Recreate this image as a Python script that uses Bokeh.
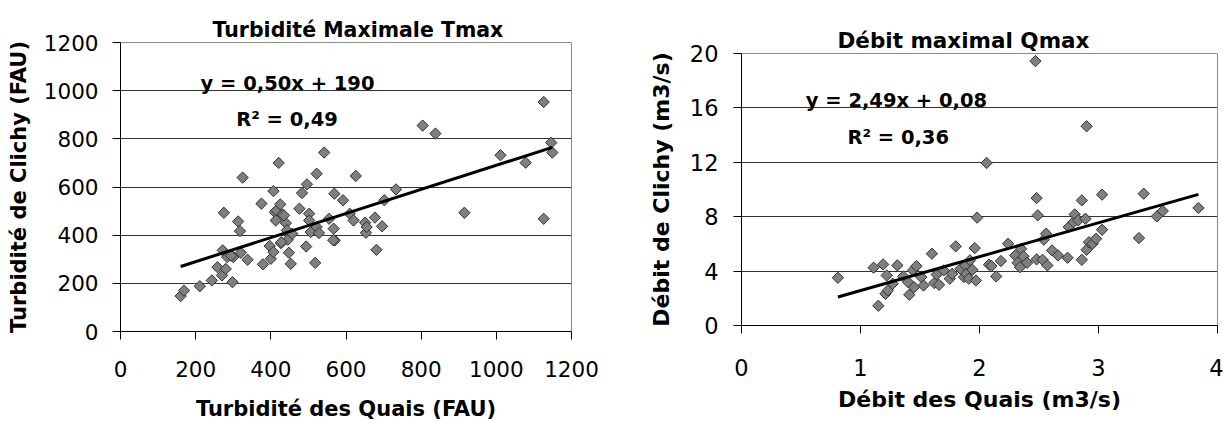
import numpy as np
from bokeh.plotting import figure
from bokeh.layouts import row
from bokeh.models import Range1d, FixedTicker, Label, ColumnDataSource
from bokeh.embed import file_html
from bokeh.resources import INLINE

FONT = "DejaVu Sans"

# ---------------- Data: Turbidité maximale (FAU) ----------------
turb_quais = [160, 169, 211, 243, 258, 270, 272, 275, 280, 284, 298, 300, 313, 318, 320,
              325, 338, 375, 379, 397, 400, 407, 407, 411, 413, 415, 421, 425, 427, 431,
              440, 443, 445, 448, 453, 457, 476, 483, 494, 496, 502, 502, 506, 518, 522,
              522, 528, 542, 555, 567, 569, 570, 592, 610, 620, 626, 651, 653, 655, 677,
              681, 696, 702, 733, 804, 838, 915, 1011, 1078, 1126, 1126, 1146, 1149,
              566, 428, 294, 435]
turb_clichy = [147, 170, 188, 212, 267, 233, 337, 493, 260, 309, 205, 309, 457, 417, 327,
               639, 298, 531, 279, 355, 302, 330, 583, 495, 461, 503, 700, 528, 367, 486,
               450, 420, 381, 327, 281, 406, 510, 575, 353, 611, 489, 461, 413, 285, 655,
               434, 409, 743, 468, 427, 572, 378, 545, 489, 461, 646, 452, 410, 434, 473,
               339, 437, 545, 590, 855, 822, 493, 732, 701, 953, 468, 784, 743,
               379, 371, 315, 482]
turb_slope, turb_intercept = 0.50, 190
turb_title = "Turbidité Maximale Tmax"
turb_xlabel = "Turbidité des Quais (FAU)"
turb_ylabel = "Turbidité de Clichy (FAU)"
turb_eq = "y = 0,50x + 190"
turb_r2 = "R² = 0,49"
turb_xticks = [0, 200, 400, 600, 800, 1000, 1200]
turb_yticks = [0, 200, 400, 600, 800, 1000, 1200]

# ---------------- Data: Débit maximal (m3/s) ----------------
deb_quais = [0.81, 1.11, 1.15, 1.19, 1.21, 1.22, 1.23, 1.27, 1.31, 1.36, 1.40, 1.41, 1.44,
             1.45, 1.47, 1.51, 1.53, 1.60, 1.62, 1.64, 1.66, 1.70, 1.75, 1.77, 1.80, 1.84,
             1.87, 1.88, 1.89, 1.91, 1.92, 1.94, 1.96, 1.97, 1.98, 2.06, 2.08, 2.10, 2.14,
             2.18, 2.24, 2.30, 2.32, 2.34, 2.35, 2.37, 2.40, 2.47, 2.48, 2.48, 2.49, 2.53,
             2.54, 2.56, 2.57, 2.61, 2.66, 2.74, 2.75, 2.79, 2.80, 2.83, 2.86, 2.86, 2.89,
             2.90, 2.90, 2.92, 2.95, 2.98, 3.03, 3.03, 3.34, 3.38, 3.49, 3.54, 3.84]
deb_clichy = [3.51, 4.25, 1.45, 4.49, 2.33, 3.68, 2.58, 3.07, 4.42, 3.61, 3.19, 2.26, 4.05,
              2.82, 4.37, 3.56, 2.94, 5.28, 3.12, 3.75, 2.99, 4.05, 3.44, 3.80, 5.82, 4.17,
              3.56, 4.42, 3.80, 3.44, 4.79, 4.10, 5.69, 3.31, 7.93, 11.95, 4.47, 4.37, 3.61,
              4.74, 6.01, 5.15, 4.61, 4.29, 5.64, 5.08, 4.61, 19.44, 4.86, 9.37, 8.10, 4.83,
              6.31, 6.75, 4.42, 5.52, 5.15, 4.98, 7.24, 7.61, 8.17, 7.73, 4.83, 9.20, 7.85,
              14.65, 5.57, 6.13, 6.01, 6.38, 9.62, 7.04, 6.43, 9.69, 8.02, 8.42, 8.64]
deb_slope, deb_intercept = 2.49, 0.08
deb_title = "Débit maximal Qmax"
deb_xlabel = "Débit des Quais (m3/s)"
deb_ylabel = "Débit de Clichy (m3/s)"
deb_eq = "y = 2,49x + 0,08"
deb_r2 = "R² = 0,36"
deb_xticks = [0, 1, 2, 3, 4]
deb_yticks = [0, 4, 8, 12, 16, 20]


def make_panel(xs, ys, slope, intercept, xticks, yticks, title, xlabel, ylabel,
               width, borders, sizes, standoffs, title_offset, title_standoff,
               eq, eq_pos, r2, r2_pos):
    mbl, mbr, mbt, mbb = borders
    title_size, axis_title_size, tick_size = sizes
    x_std, x_lab_std, y_std, y_lab_std = standoffs
    p = figure(width=width, height=423, output_backend="svg", toolbar_location=None,
               title=title,
               x_range=Range1d(xticks[0], xticks[-1]), y_range=Range1d(yticks[0], yticks[-1]),
               min_border_left=mbl, min_border_right=mbr, min_border_top=mbt,
               min_border_bottom=mbb, background_fill_color="white",
               border_fill_color="white", frame_align=False)
    p.title.align = "left"
    p.title.offset = title_offset
    p.title.standoff = title_standoff
    p.title.text_font = FONT
    p.title.text_font_size = title_size
    p.title.text_font_style = "bold"
    p.title.text_color = "black"

    p.outline_line_color = "#8c8c8c"
    p.outline_line_width = 1

    p.xgrid.visible = False
    p.ygrid.ticker = FixedTicker(ticks=yticks)
    p.ygrid.grid_line_color = "#333333"
    p.ygrid.grid_line_width = 1

    for ax, ticks, std, lab, lstd in ((p.xaxis[0], xticks, x_std, xlabel, x_lab_std),
                                      (p.yaxis[0], yticks, y_std, ylabel, y_lab_std)):
        ax.ticker = FixedTicker(ticks=ticks)
        ax.minor_tick_line_color = None
        ax.major_tick_out = 8
        ax.major_tick_in = 0
        ax.major_tick_line_color = "black"
        ax.axis_line_color = "black"
        ax.major_label_text_font = FONT
        ax.major_label_text_font_size = tick_size
        ax.major_label_text_color = "black"
        ax.major_label_standoff = std
        ax.axis_label = lab
        ax.axis_label_text_font = FONT
        ax.axis_label_text_font_size = axis_title_size
        ax.axis_label_text_font_style = "bold"
        ax.axis_label_text_color = "black"
        ax.axis_label_standoff = lstd
    p.yaxis[0].major_label_orientation = "horizontal"

    src = ColumnDataSource(dict(x=xs, y=ys))
    p.scatter("x", "y", source=src, marker="square", size=8.0, angle=np.pi / 4,
              fill_color="#7f7f7f", line_color="#333333", line_width=1)

    x0, x1 = min(xs), max(xs)
    p.line([x0, x1], [slope * x0 + intercept, slope * x1 + intercept],
           line_color="black", line_width=3)

    for txt, pos in ((eq, eq_pos), (r2, r2_pos)):
        p.add_layout(Label(x=pos[0], y=pos[1], text=txt, text_font=FONT,
                           text_font_size="19.5px", text_font_style="bold",
                           text_color="black", text_baseline="alphabetic"))
    return p


# left panel: frame x 120..571 (0..1200), y 42..331 (1200..0)
p1 = make_panel(turb_quais, turb_clichy, turb_slope, turb_intercept,
                turb_xticks, turb_yticks, turb_title, turb_xlabel, turb_ylabel,
                608, (120, 37, 42, 92), ("20.5px", "21px", "21.5px"),
                (21, 17, 14, 10), 92, 2,
                turb_eq, (213, 1030), turb_r2, (308, 880))
# right panel: frame x 741..1217 (0..4), y 53..325 (20..0)
p2 = make_panel(deb_quais, deb_clichy, deb_slope, deb_intercept,
                deb_xticks, deb_yticks, deb_title, deb_xlabel, deb_ylabel,
                615, (133, 6, 53, 98), ("21.5px", "22px", "22.5px"),
                (25, 8, 15, 13), 96, 1,
                deb_eq, (0.54, 16.54), deb_r2, (0.89, 13.82))

layout = row(p1, p2, spacing=0)
open("out.html", "w").write(file_html(layout, INLINE))
